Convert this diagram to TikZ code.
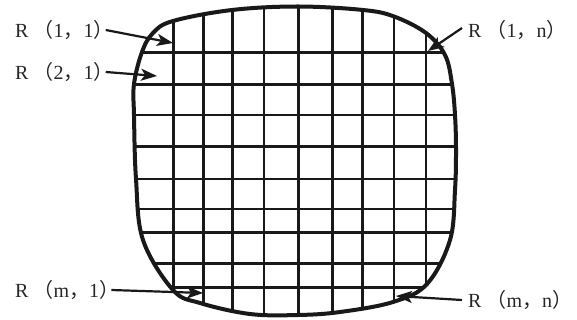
\documentclass[tikz,border=0pt]{standalone}
\usepackage{fontspec}
\setmainfont{Liberation Serif}
\newfontfamily\cjk{Noto Sans CJK SC}
\usetikzlibrary{arrows.meta}
\newcommand{\lp}{{\cjk （}}
\newcommand{\rp}{{\cjk ）}}
\newcommand{\cm}{{\cjk ，}}
\begin{document}
\begin{tikzpicture}[x=1pt,y=-1pt,
  lbl/.style={inner sep=0pt,anchor=west,font=\fontsize{20}{20}\selectfont,text=black!85},
  ptr/.style={line width=2.2pt,-{Stealth[length=16pt,width=12pt,inset=4pt]},draw=black!90,fill=black!90},
  gridline/.style={line width=2.8pt,draw=black!90},
  outline/.style={line width=4pt,draw=black!90}]
\useasboundingbox (0,0) rectangle (577,320);
\def\blobpath{plot[smooth cycle, tension=0.6] coordinates {
 (298,6.5) (363,10) (394,16.5) (426,33) (445,55) (452,84) (455,115) (456,150)
 (455,190) (450,240) (427,284) (393,302) (340,312) (298,315) (250,314)
 (200,303) (173,290) (143,240) (136,179) (134,115) (134,84) (142,52)
 (153,33) (173,21) (232,10)}}
\begin{scope}
 \clip \blobpath;
 \foreach \y in {52.3,84.3,115,146.7,179,209,232.3,263.3,287.3}
   \draw[gridline] (120,\y) -- (470,\y);
 \foreach \x in {173.3,203.3,232.3,264,298.3,332.3,362.7,394,426}
   \draw[gridline] (\x,0) -- (\x,320);
\end{scope}
\draw[outline] \blobpath;
\node[lbl] (l11) at (15,30) {R \lp1\cm 1\rp};
\node[lbl] (l21) at (15,72) {R \lp2\cm 1\rp};
\node[lbl] (l1n) at (468,30) {R \lp1\cm n\rp};
\node[lbl] (lm1) at (15,290) {R \lp m\cm 1\rp};
\node[lbl] (lmn) at (468,300) {R \lp m\cm n\rp};
\coordinate (t11) at (173,43);
\coordinate (t21) at (157,76);
\coordinate (t1n) at (428,51);
\coordinate (tm1) at (203,293);
\coordinate (tmn) at (396,296);
\draw[ptr] ([xshift=-8pt]l11.east) -- (t11);
\draw[ptr] ([xshift=-8pt]l21.east) -- (t21);
\draw[ptr] ([shift={(-6pt,2pt)}]l1n.west) -- (t1n);
\draw[ptr] ([xshift=-8pt]lm1.east) -- (tm1);
\draw[ptr] ([shift={(-6pt,0pt)}]lmn.west) -- (tmn);
\end{tikzpicture}
\end{document}
